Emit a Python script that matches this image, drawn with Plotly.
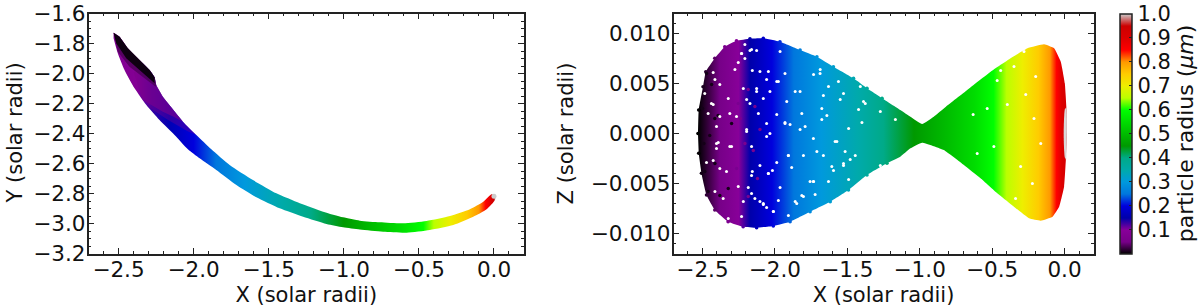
import numpy as np
import plotly.graph_objects as go

# ---- colour map (radius -> rgb)
radius_levels = [0,.05,.10,.15,.20,.25,.30,.35,.40,.45,.50,.55,.60,.65,.70,.75,.80,.85,.90,.95,1.0]
radius_colors = ["#000000","#770088","#880099","#0000aa","#0000dd","#0077dd","#0099dd","#00aaaa","#00aa88",
                 "#009900","#00bb00","#00dd00","#00ff00","#bbff00","#eeee00","#ffcc00","#ff9900","#ff0000",
                 "#dd0000","#cc0000","#cccccc"]
colorbar_ticks = [0.1,0.2,0.3,0.4,0.5,0.6,0.7,0.8,0.9,1.0]

# ---- left panel: outline of the X/Y band
band_x = [-2.533,-2.493,-2.438,-2.36,-2.293,-2.26,-2.249,-2.205,-2.149,-2.071,-1.982,-1.882,-1.76,-1.605,-1.449,
          -1.293,-1.138,-1.005,-0.893,-0.76,-0.605,-0.449,-0.293,-0.16,-0.071,-0.015,0.009,
          0.007,-0.049,-0.138,-0.271,-0.427,-0.582,-0.738,-0.893,-1.005,-1.115,-1.271,-1.427,-1.582,-1.715,
          -1.849,-1.96,-2.038,-2.127,-2.227,-2.315,-2.393,-2.46,-2.505,-2.533]
band_y = [-1.728,-1.755,-1.832,-1.91,-1.977,-2.025,-2.077,-2.155,-2.225,-2.321,-2.41,-2.505,-2.61,-2.71,-2.799,
          -2.865,-2.921,-2.959,-2.981,-2.992,-2.999,-2.983,-2.95,-2.905,-2.855,-2.805,-2.821,
          -2.843,-2.905,-2.955,-3.01,-3.043,-3.061,-3.055,-3.04,-3.025,-3.003,-2.955,-2.899,-2.825,-2.743,
          -2.643,-2.565,-2.505,-2.41,-2.31,-2.21,-2.099,-1.977,-1.865,-1.765]
band_grad_x = [-2.54,-2.38,-2.28,-2.16,-2.0,-1.85,-1.66,-1.42,-1.22,-1.0,-0.82,-0.62,-0.47,-0.40,-0.29,-0.18,-0.10,-0.055,-0.02,0.0,0.012]
band_grad_r = [0.07,0.10,0.13,0.16,0.20,0.25,0.30,0.35,0.40,0.45,0.50,0.55,0.60,0.65,0.70,0.75,0.80,0.85,0.90,0.95,1.0]

purple_x = [-2.338,-2.270,-2.205,-2.130,-2.071,-2.149,-2.205,-2.249,-2.26,-2.293,-2.40]
purple_y = [-2.177,-2.215,-2.255,-2.290,-2.321,-2.225,-2.155,-2.077,-2.025,-1.977,-1.99]
violet_wash_x = [-2.393,-2.290,-2.170,-2.040,-1.982,-2.071,-2.149,-2.205,-2.249,-2.26,-2.293,-2.46]
violet_wash_y = [-2.099,-2.230,-2.310,-2.385,-2.41,-2.321,-2.225,-2.155,-2.077,-2.025,-1.977,-1.977]
dusk_x = [-2.533,-2.505,-2.427,-2.338,-2.253,-2.249,-2.26,-2.293,-2.36,-2.438,-2.493]
dusk_y = [-1.728,-1.855,-1.955,-2.021,-2.088,-2.077,-2.025,-1.977,-1.91,-1.832,-1.755]
black_x = [-2.533,-2.515,-2.449,-2.36,-2.26,-2.26,-2.293,-2.36,-2.438,-2.493]
black_y = [-1.728,-1.799,-1.899,-1.977,-2.065,-2.025,-1.977,-1.91,-1.832,-1.755]
tip_x = [0.0]
tip_y = [-2.818]

# ---- right panel: outline of the X/Z cloud
cloud_x = [-2.531,-2.526,-2.496,-2.477,-2.415,-2.346,-2.265,-2.172,-2.08,-1.965,-1.826,-1.71,-1.596,-1.457,-1.364,-1.26,
           -1.134,-1.064,-0.983,-0.903,-0.819,-0.672,-0.51,-0.372,-0.256,-0.141,-0.072,-0.026,0.002,0.014,0.016,
           0.009,-0.003,-0.037,-0.083,-0.164,-0.245,-0.349,-0.464,-0.58,-0.695,-0.834,-0.983,-1.064,-1.134,-1.226,
           -1.364,-1.492,-1.618,-1.757,-1.895,-2.011,-2.126,-2.219,-2.323,-2.415,-2.472,-2.507,-2.526]
cloud_z = [0,.00235,.00468,.00618,.00752,.00868,.00928,.00948,.00952,.00918,.00835,.00768,.00668,.00552,.00452,.00352,
           .00235,.00168,.00095,.00168,.00268,.00435,.00618,.00752,.00852,.00892,.00852,.00718,.00502,.00235,0,
           -.00265,-.00532,-.00732,-.00832,-.00872,-.00848,-.00732,-.00598,-.00448,-.00315,-.00165,-.00092,-.00148,-.00232,-.00298,
           -.00415,-.00565,-.00682,-.00782,-.00882,-.00925,-.00942,-.00932,-.00882,-.00765,-.00615,-.00398,-.00198]
cloud_grad_x = [-2.53,-2.47,-2.38,-2.25,-2.17,-2.02,-1.87,-1.68,-1.42,-1.25,-1.04,-0.82,-0.62,-0.49,-0.40,-0.29,-0.18,-0.10,-0.055,-0.02,0.016]
cloud_grad_r = [0.0,0.02,0.05,0.10,0.15,0.20,0.25,0.30,0.35,0.40,0.45,0.50,0.55,0.60,0.65,0.70,0.75,0.80,0.85,0.90,0.93]

sliver_x = [0.016,0.012,0.002,-0.006,0.002,0.012]
sliver_z = [0,.0026,.0024,0,-.0024,-.0026]

gap_x = [-2.207,-2.426,-2.230,-2.172,-2.126,-1.964,-2.207,-2.253,-2.276,-2.156,-2.103,-1.930,-2.057,-1.976,-1.860,-2.034,
         -2.126,-2.414,-2.484,-2.380,-2.426,-2.322,-2.218,-2.080,-1.918,-2.172,-1.987,-2.114,-1.814,-2.403,-2.195,-2.311,
         -1.930,-2.057,-2.034,-2.461,-1.791,
         -2.391,-2.403,-2.311,-2.195,-2.057,-2.161,-1.884,-2.045,-2.017,-2.156,-1.907,-1.803,-1.987,-2.103,-2.253,-2.161,
         -2.080,-2.103,-2.057,-1.860,-2.010,-1.907,-2.472,-2.380,-1.757,-1.814,-1.976,-2.230,-2.322,-2.357,-2.414,
         -1.561,-1.688,-1.388,-1.272,-1.665,-1.526,-1.676,-1.399,-1.584,-1.515,-1.480,-1.665,-1.734,-1.526,-1.734,-1.630,
         -1.722,-1.491,-1.168,-1.607,-1.272,-1.422,
         -.349,-.280,-.199,-.465,-.268,-.395,-.631,-.211,-.164,-.488,-.603,-.580,-.338,-.222,-.303,-.534,-.441,
         -2.403,-1.987,-2.126,-2.195,-2.045,-2.161,-2.230,-1.826,-1.733,-1.687,-1.676,-1.572,-1.549,-1.491,-1.376,-1.445,
         -1.710,-1.733,-1.595,-1.526,-1.826,-1.895,-1.907,-2.045,-2.080,-2.138,-2.011,-1.849,-1.803,-2.218,-2.161,-2.299,
         -2.265,-2.380,-2.438,-2.426,-2.334,-2.184,-1.964,-1.930,-1.410,-1.641,-1.630]
gap_z = [.0089,.0061,.0080,.0083,.0083,.0082,.0075,.0071,.0064,.0063,.0062,.0060,.0054,.0052,.0042,.0042,
         .0045,.0054,.0040,.0049,.0029,.0035,.0045,.0035,.0032,.0030,.0019,.0020,.0020,.0007,.0004,.0020,
         .0010,.0010,.0000,.0020,.0007,
         -.0009,-.0015,-.0013,.0002,-.0003,-.0013,-.0034,-.0040,-.0037,-.0038,-.0022,-.0022,-.0029,-.0032,-.0053,-.0060,
         -.0071,-.0068,-.0074,-.0068,-.0078,-.0082,-.0029,-.0035,-.0048,-.0062,-.0067,-.0083,-.0085,-.0065,-.0058,
         .0052,.0060,.0032,.0022,.0038,.0040,.0014,.0011,-.0008,-.0018,-.0026,-.0022,-.0005,-.0032,-.0048,-.0048,
         -.0061,-.0046,.0014,-.0033,-.0032,.0024,
         .0067,.0082,.0057,.0053,.0039,.0029,.0019,.0015,-.0010,-.0013,-.0020,-.0047,-.0065,-.0050,-.0033,.0025,.0063,
         -.0010,.0052,.0042,.0034,.0062,.0084,.0080,.0042,.0059,.0064,.0025,-.0008,.0034,.0005,.0030,-.0022,
         -.0018,-.0048,-.0037,-.0030,.0004,.0009,-.0022,-.0040,-.0070,-.0065,-.0078,-.0070,-.0063,-.0068,-.0042,-.0013,
         .0017,.0017,.0030,-.0027,-.0038,-.0054,-.0054,.0011,.0047,.0018,.0047]
dark_x = [-2.472,-2.437,-2.484,-2.461,-2.380,-2.322,-2.414,-2.392,-2.299,-2.415,-2.45,-2.50,-2.49]
dark_z = [.0060,.0049,-.0038,-.0058,-.0062,-.0055,-.0030,.0018,.0010,.0015,-.0002,.0025,-.0010]
violet_x = [-2.184,-2.138,-2.253,-2.103,-2.207,-2.184,-2.264,-2.149,-2.24,-2.12]
violet_z = [.0044,.0027,.0030,.0004,-.0010,-.0063,-.0035,-.0017,.0015,-.0045]

FIG_W, FIG_H = 1200, 308


def rgb(hexcode):
    return [int(hexcode[i:i + 2], 16) for i in (1, 3, 5)]


channels = np.array([rgb(c) for c in radius_colors], dtype=float)


def color_of(r):
    vals = [int(round(np.interp(r, radius_levels, channels[:, k]))) for k in range(3)]
    return f"rgb({vals[0]},{vals[1]},{vals[2]})"


def gradient(xs, rs):
    x0, x1 = xs[0], xs[-1]
    return dict(type="horizontal", start=x0, stop=x1,
                colorscale=[[(x - x0) / (x1 - x0), color_of(r)] for x, r in zip(xs, rs)])


def poly(x, y, xa, ya, smooth=0, **kw):
    line = dict(width=0, shape="spline", smoothing=smooth) if smooth else dict(width=0)
    return go.Scatter(x=x, y=y, xaxis=xa, yaxis=ya, mode="lines", line=line, fill="toself",
                      hoverinfo="skip", showlegend=False, **kw)


def dots(x, y, color, size, xa="x2", ya="y2"):
    return go.Scatter(x=x, y=y, xaxis=xa, yaxis=ya, mode="markers", hoverinfo="skip", showlegend=False,
                      marker=dict(color=color, size=size, line=dict(width=0)))


def fx(px):
    return px / FIG_W


def fy(py):
    return 1 - py / FIG_H


fig = go.Figure()
fig.add_trace(poly(band_x, band_y, "x", "y", smooth=0.6, fillgradient=gradient(band_grad_x, band_grad_r)))
fig.add_trace(poly(violet_wash_x, violet_wash_y, "x", "y", fillcolor="rgba(125,0,140,0.35)"))
fig.add_trace(poly(purple_x, purple_y, "x", "y", fillcolor="rgba(125,0,140,0.6)"))
fig.add_trace(poly(dusk_x, dusk_y, "x", "y", fillcolor="rgba(70,0,80,0.7)"))
fig.add_trace(poly(black_x, black_y, "x", "y", fillcolor="rgba(8,0,10,0.92)"))
fig.add_trace(dots(tip_x, tip_y, "#cccccc", 5, "x", "y"))

fig.add_trace(poly(cloud_x, cloud_z, "x2", "y2", smooth=0.35, fillgradient=gradient(cloud_grad_x, cloud_grad_r)))
fig.add_trace(poly(sliver_x, sliver_z, "x2", "y2", smooth=0.6, fillcolor="#d8d8d8"))

# Scalloped rim of the sparse left lobe: one dot on each outline point, coloured by its radius.
rim = [(x, z) for x, z in zip(cloud_x, cloud_z) if x < -1.2]
rim_colors = [color_of(np.interp(x, cloud_grad_x, cloud_grad_r)) for x, _ in rim]
fig.add_trace(dots([p[0] for p in rim], [p[1] for p in rim], rim_colors, 3.6))

fig.add_trace(dots(dark_x, dark_z, "#150018", 3.4))
fig.add_trace(dots(violet_x, violet_z, "#7a0090", 3.4))
fig.add_trace(dots(gap_x, gap_z, "#ffffff", 3))

fig.add_trace(go.Scatter(
    x=[None], y=[None], xaxis="x2", yaxis="y2", mode="markers", showlegend=False, hoverinfo="skip",
    marker=dict(color=[0], cmin=0, cmax=1, size=1,
                colorscale=[[r, c] for r, c in zip(radius_levels, radius_colors)],
                colorbar=dict(x=fx(1119.5), xanchor="left", y=fy(133.5), yanchor="middle",
                              xref="paper", yref="paper", xpad=0, ypad=0,
                              thickness=12, thicknessmode="pixels", len=240, lenmode="pixels",
                              outlinecolor="#222222", outlinewidth=1.5, borderwidth=0,
                              tickmode="array", tickvals=colorbar_ticks, ticktext=[f"{v:.1f}" for v in colorbar_ticks],
                              ticks="inside", ticklen=3, tickcolor="#222222", tickwidth=1,
                              tickfont=dict(family="DejaVu Sans", size=21, color="#111111"),
                              title=dict(text="particle radius (<i>μm</i>)", side="right",
                                         font=dict(family="DejaVu Sans", size=22, color="#111111"))))))

FONT = dict(family="DejaVu Sans", size=21.5, color="#111111")
TITLE = dict(family="DejaVu Sans", size=21, color="#111111")


def axis(domain, rng, dtick, minor, fmt, title, anchor, standoff, label_off):
    return dict(domain=domain, range=rng, anchor=anchor, dtick=dtick, tick0=0, tickformat=fmt,
                ticks="inside", ticklen=6, tickwidth=1, tickcolor="#222222", showgrid=False, zeroline=False,
                showline=True, linecolor="#222222", linewidth=1.5, mirror="allticks", tickfont=FONT,
                ticklabelstandoff=label_off,
                minor=dict(dtick=minor, tick0=0, ticks="inside", ticklen=3, tickwidth=1, tickcolor="#222222", showgrid=False),
                title=dict(text=title, font=TITLE, standoff=standoff), automargin=False)


y_dom = [fy(253.5), fy(13.5)]
fig.update_layout(
    width=FIG_W, height=FIG_H, margin=dict(l=0, r=0, t=0, b=0, autoexpand=False),
    paper_bgcolor="white", plot_bgcolor="white", showlegend=False,
    xaxis=axis([fx(88.5), fx(524)], [-2.7, 0.2], 0.5, 0.1, ".1f", "X (solar radii)", "y", 6, -4),
    yaxis=axis(y_dom, [-3.2, -1.6], 0.2, 0.05, ".1f", "", "x", 8, -3),
    xaxis2=axis([fx(673.5), fx(1093.5)], [-2.7, 0.2], 0.5, 0.1, ".1f", "X (solar radii)", "y2", 6, -4),
    yaxis2=axis(y_dom, [-0.012, 0.012], 0.005, 0.001, ".3f", "Z (solar radii)", "x2", 12, -3),
    annotations=[dict(text="Y (solar radii)", textangle=-90, showarrow=False, xref="paper", yref="paper",
                      x=fx(14), y=fy(133.5), xanchor="center", yanchor="middle", font=TITLE)],
)

# Drop the browser's default page margin so the figure fills the 1200x308 window.
fig.write_html("out.html", config={"displayModeBar": False}, post_script="document.body.style.margin='0';")
